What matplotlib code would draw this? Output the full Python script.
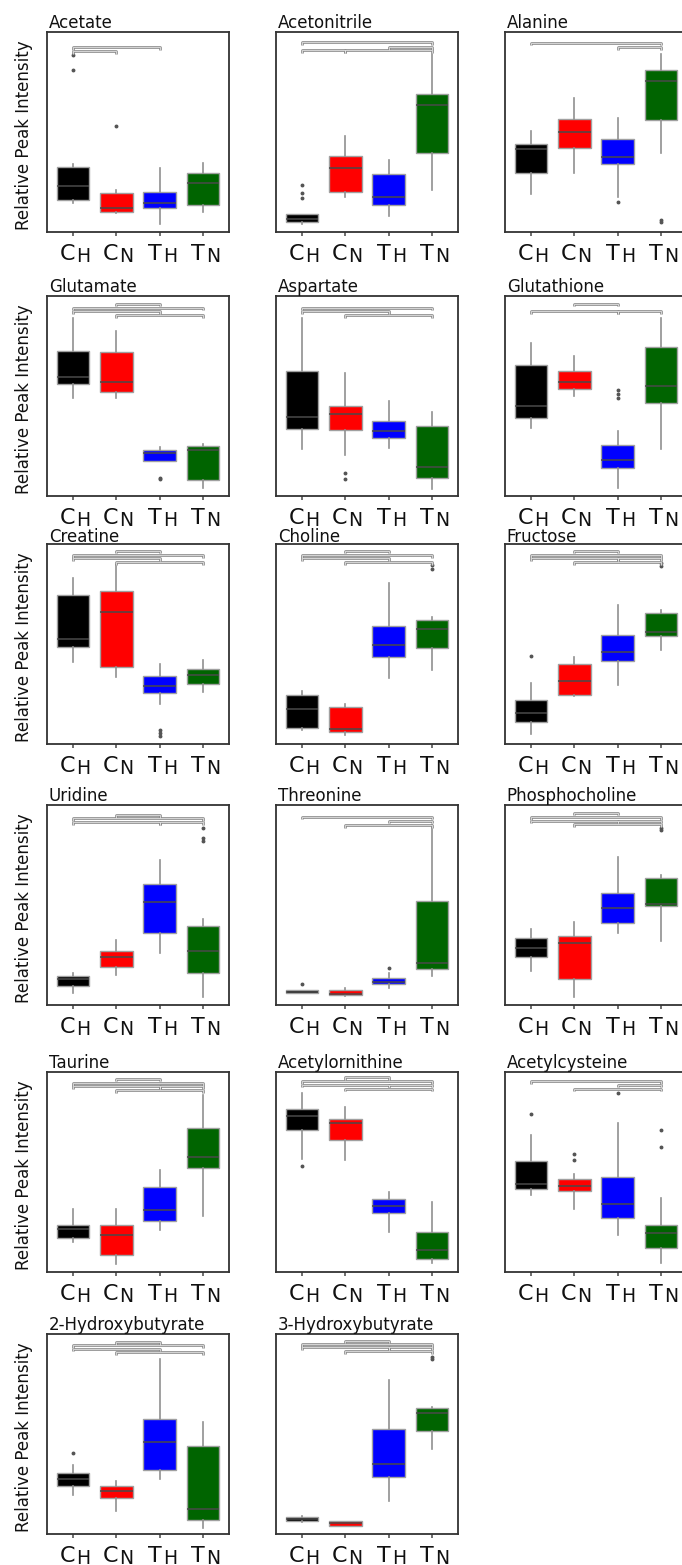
import numpy as np
import matplotlib.pyplot as plt

metabolites = ["Acetate", "Acetonitrile", "Alanine",
               "Glutamate", "Aspartate", "Glutathione",
               "Creatine", "Choline", "Fructose",
               "Uridine", "Threonine", "Phosphocholine",
               "Taurine", "Acetylornithine", "Acetylcysteine",
               "2-Hydroxybutyrate", "3-Hydroxybutyrate"]

group_letters = ["C", "C", "T", "T"]
group_subs = ["H", "N", "H", "N"]
group_colors = ["#000000", "#ff0000", "#0000ff", "#006400"]

# box statistics, scaled to each panel's own (unlabelled) axis
medians = [
    [0.232, 0.119, 0.144, 0.243], [0.067, 0.322, 0.173, 0.633], [0.416, 0.501, 0.376, 0.755],
    [0.597, 0.569, 0.217, 0.229], [0.393, 0.410, 0.323, 0.147], [0.452, 0.572, 0.181, 0.548],
    [0.525, 0.658, 0.290, 0.345], [0.173, 0.075, 0.495, 0.575], [0.153, 0.315, 0.458, 0.562],
    [0.128, 0.241, 0.513, 0.272], [0.065, 0.056, 0.115, 0.211], [0.287, 0.312, 0.483, 0.505],
    [0.213, 0.187, 0.308, 0.575], [0.778, 0.745, 0.330, 0.108], [0.442, 0.428, 0.338, 0.195],
    [0.274, 0.214, 0.460, 0.125], [0.075, 0.053, 0.352, 0.605]]
q1 = [
    [0.161, 0.102, 0.119, 0.134], [0.050, 0.200, 0.137, 0.395], [0.295, 0.421, 0.341, 0.559],
    [0.560, 0.518, 0.177, 0.080], [0.334, 0.331, 0.289, 0.092], [0.390, 0.535, 0.142, 0.463],
    [0.483, 0.387, 0.253, 0.302], [0.078, 0.058, 0.437, 0.482], [0.112, 0.245, 0.417, 0.540],
    [0.095, 0.191, 0.360, 0.161], [0.058, 0.048, 0.103, 0.178], [0.242, 0.128, 0.408, 0.495],
    [0.172, 0.083, 0.253, 0.520], [0.712, 0.662, 0.295, 0.067], [0.417, 0.403, 0.272, 0.120],
    [0.241, 0.179, 0.321, 0.070], [0.063, 0.041, 0.287, 0.517]]
q3 = [
    [0.327, 0.195, 0.201, 0.295], [0.092, 0.378, 0.292, 0.692], [0.442, 0.563, 0.467, 0.810],
    [0.724, 0.722, 0.231, 0.251], [0.627, 0.452, 0.376, 0.351], [0.656, 0.624, 0.254, 0.744],
    [0.745, 0.765, 0.340, 0.373], [0.245, 0.183, 0.590, 0.620], [0.220, 0.398, 0.545, 0.653],
    [0.145, 0.272, 0.605, 0.394], [0.075, 0.075, 0.136, 0.518], [0.337, 0.345, 0.562, 0.633],
    [0.233, 0.237, 0.425, 0.720], [0.817, 0.767, 0.367, 0.200], [0.553, 0.467, 0.475, 0.233],
    [0.307, 0.238, 0.573, 0.440], [0.083, 0.063, 0.526, 0.630]]
whisk_lo = [
    [0.144, 0.094, 0.042, 0.100], [0.042, 0.175, 0.078, 0.208], [0.190, 0.295, 0.175, 0.396],
    [0.490, 0.490, 0.177, 0.042], [0.237, 0.206, 0.242, 0.037], [0.338, 0.498, 0.038, 0.237],
    [0.408, 0.333, 0.200, 0.262], [0.070, 0.045, 0.328, 0.370], [0.048, 0.240, 0.295, 0.470],
    [0.061, 0.150, 0.261, 0.042], [0.058, 0.045, 0.086, 0.145], [0.172, 0.038, 0.358, 0.320],
    [0.150, 0.038, 0.212, 0.280], [0.567, 0.558, 0.200, 0.047], [0.383, 0.317, 0.187, 0.047],
    [0.194, 0.116, 0.277, 0.028], [0.058, 0.041, 0.166, 0.423]]
whisk_hi = [
    [0.341, 0.210, 0.319, 0.344], [0.092, 0.480, 0.362, 0.892], [0.504, 0.671, 0.568, 0.888],
    [0.890, 0.824, 0.246, 0.259], [0.890, 0.615, 0.477, 0.418], [0.766, 0.699, 0.326, 0.890],
    [0.832, 0.895, 0.398, 0.420], [0.265, 0.200, 0.803, 0.637], [0.303, 0.437, 0.695, 0.670],
    [0.161, 0.327, 0.726, 0.430], [0.075, 0.086, 0.161, 0.900], [0.380, 0.413, 0.742, 0.650],
    [0.317, 0.317, 0.508, 0.887], [0.895, 0.825, 0.400, 0.350], [0.683, 0.492, 0.745, 0.372],
    [0.346, 0.266, 0.877, 0.560], [0.091, 0.063, 0.771, 0.635]]
outliers = [
    [[0.885, 0.81], [0.53], [], []],
    [[0.237, 0.197, 0.17], [], [], []],
    [[], [], [0.149], [0.062, 0.048]],
    [[], [], [0.09, 0.085], []],
    [[], [0.114, 0.087], [], []],
    [[], [], [0.532, 0.51, 0.488], []],
    [[], [], [0.07, 0.053, 0.042], []],
    [[], [], [], [0.895, 0.873]],
    [[0.442], [], [], [0.903, 0.892]],
    [[], [], [], [0.884, 0.834, 0.82]],
    [[0.106], [], [0.186], []],
    [[], [], [], [0.883, 0.875]],
    [[], [], [], []],
    [[0.53], [], [], []],
    [[0.788], [0.592, 0.562], [0.895], [0.708, 0.625]],
    [[0.404], [], [], []],
    [[], [], [], [0.887, 0.876]]]
# significance brackets: (group a, group b, height)
brackets = [
    [(0, 2, 0.925), (0, 1, 0.903)],
    [(0, 3, 0.950), (2, 3, 0.925), (0, 1, 0.908), (1, 3, 0.908)],
    [(0, 3, 0.947), (2, 3, 0.925)],
    [(1, 2, 0.962), (0, 3, 0.941), (0, 2, 0.925), (1, 3, 0.903)],
    [(0, 3, 0.941), (0, 2, 0.925), (1, 3, 0.903)],
    [(1, 2, 0.962), (0, 2, 0.925), (2, 3, 0.925)],
    [(1, 2, 0.967), (0, 3, 0.945), (0, 2, 0.928), (1, 3, 0.908)],
    [(1, 2, 0.967), (0, 3, 0.945), (0, 2, 0.928), (1, 3, 0.908)],
    [(1, 2, 0.967), (0, 3, 0.945), (0, 2, 0.928), (2, 3, 0.928), (1, 3, 0.908)],
    [(1, 2, 0.950), (0, 3, 0.934), (0, 2, 0.914), (2, 3, 0.914)],
    [(0, 3, 0.942), (2, 3, 0.922), (1, 3, 0.900)],
    [(1, 2, 0.962), (0, 3, 0.938), (0, 2, 0.922), (2, 3, 0.922), (1, 3, 0.903)],
    [(1, 2, 0.967), (0, 3, 0.945), (0, 2, 0.928), (2, 3, 0.928), (1, 3, 0.908)],
    [(1, 2, 0.975), (0, 3, 0.953), (0, 2, 0.937), (2, 3, 0.937), (1, 3, 0.917)],
    [(0, 3, 0.953), (2, 3, 0.937), (1, 3, 0.917)],
    [(1, 2, 0.960), (0, 3, 0.944), (0, 2, 0.927), (1, 3, 0.909)],
    [(1, 2, 0.967), (0, 3, 0.950), (0, 2, 0.934), (2, 3, 0.934), (1, 3, 0.915)]]

W, H = 682, 1565
row_tops = [32, 296, 544, 805, 1072, 1334]
title_gap = [3, 3, 1.5, 3, 3, 3]
col_lefts = [47, 276, 505]
ax_w, ax_h = 182, 200

fig = plt.figure(figsize=(W / 100, H / 100), dpi=100)
positions = np.arange(1, 5)

for k, name in enumerate(metabolites):
    r, c = divmod(k, 3)
    ax = fig.add_axes([col_lefts[c] / W, 1 - (row_tops[r] + ax_h) / H, ax_w / W, ax_h / H])

    stats = []
    for g in range(4):
        stats.append(dict(med=medians[k][g], q1=q1[k][g], q3=q3[k][g],
                          whislo=whisk_lo[k][g], whishi=whisk_hi[k][g],
                          fliers=outliers[k][g]))
    bp = ax.bxp(stats, positions=positions, widths=0.75, patch_artist=True,
                showcaps=False,
                boxprops=dict(edgecolor="#a0a0a0", linewidth=1.0),
                whiskerprops=dict(color="#909090", linewidth=1.2),
                medianprops=dict(color="#4a4a4a", linewidth=1.3, alpha=0.85),
                flierprops=dict(marker="o", markersize=1.8, markerfacecolor="#555555",
                                markeredgecolor="#555555", linestyle="none"))
    for patch, col in zip(bp["boxes"], group_colors):
        patch.set_facecolor(col)

    tick = 0.013
    for a, b, lev in brackets[k]:
        xs = [a + 1, a + 1, b + 1, b + 1]
        ys = [lev - tick, lev, lev, lev - tick]
        ax.plot(xs, ys, color="#8a8a8a", lw=1.9, solid_capstyle="butt", zorder=3)
        ax.plot(xs, ys, color="#e2e2e2", lw=0.6, solid_capstyle="butt", zorder=4)

    ax.set_xlim(0.4, 4.6)
    ax.set_ylim(0, 1)
    ax.set_yticks([])
    ax.set_xticks(positions)
    ax.set_xticklabels([])
    ax.tick_params(axis="x", length=3, width=1.2, color="#555555")
    for sp in ax.spines.values():
        sp.set_color("#333333")
        sp.set_linewidth(1.3)

    xt = ax.get_xaxis_transform()
    for g in range(4):
        ax.annotate(group_letters[g], xy=(positions[g], 0), xycoords=xt,
                    xytext=(1.5, -8.5), textcoords="offset points",
                    ha="right", va="top", fontsize=16, color="#111111")
        ax.annotate(group_subs[g], xy=(positions[g], 0), xycoords=xt,
                    xytext=(2.2, -10.5), textcoords="offset points",
                    ha="left", va="top", fontsize=13.5, color="#111111")

    ax.annotate(name, xy=(0.01, 1.0), xycoords="axes fraction",
                xytext=(0, title_gap[r]), textcoords="offset points",
                ha="left", va="baseline", fontsize=12, color="#111111")

    if c == 0:
        fig.text(24 / W, 1 - (row_tops[r] + ax_h / 2 + 3) / H, "Relative Peak Intensity",
                 rotation=90, ha="center", va="center", fontsize=12, color="#111111")

fig.savefig("out.png", dpi=100)
